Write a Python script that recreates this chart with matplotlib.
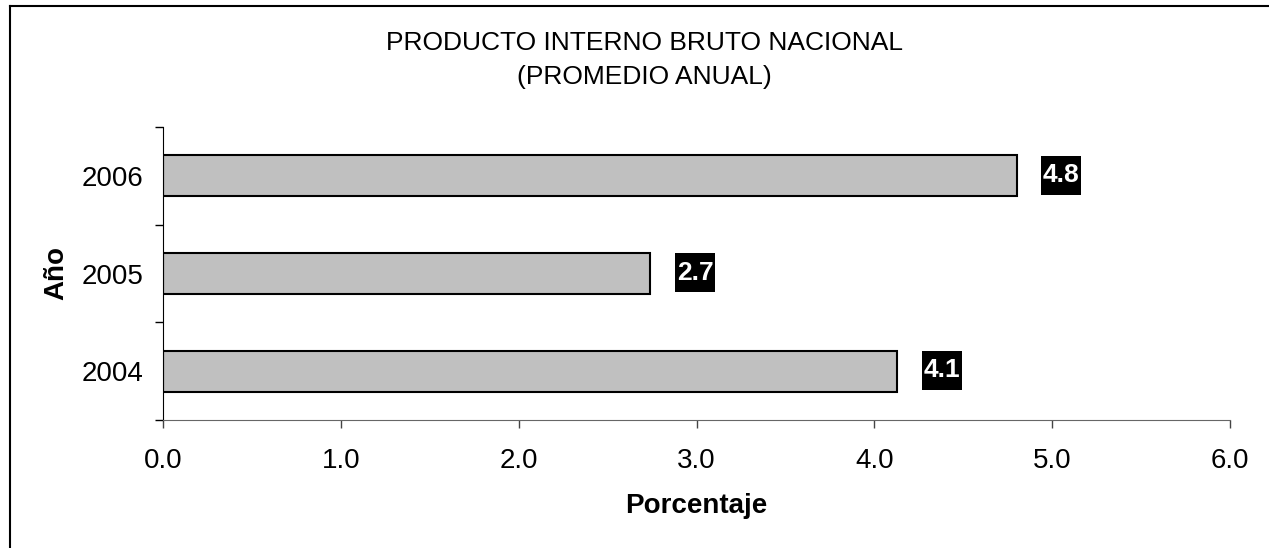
import matplotlib
matplotlib.use("Agg")
import matplotlib.pyplot as plt
from matplotlib.lines import Line2D
from matplotlib.path import Path
import numpy as np

plt.rcParams['font.family'] = ['Liberation Sans', 'DejaVu Sans']

# Data
years = ['2004', '2005', '2006']
pib = [4.13, 2.74, 4.8]
x_ticks = [0.0, 1.0, 2.0, 3.0, 4.0, 5.0, 6.0]


def label_box(x0, y0, width, height, mutation_size):
    # tight on the sides, taller on top/bottom (Excel style data label)
    px = 0.06 * mutation_size
    py = 0.28 * mutation_size
    return Path([(x0 - px, y0 - py), (x0 + width + px, y0 - py),
                 (x0 + width + px, y0 + height + py), (x0 - px, y0 + height + py),
                 (x0 - px, y0 - py)], closed=True)


W, H, DPI = 1269, 548, 100
fig = plt.figure(figsize=(W / DPI, H / DPI), dpi=DPI)
ax = fig.add_axes([163 / W, 1 - 420 / H, (1230 - 163) / W, (420 - 127) / H])

ypos = np.arange(len(years))
ax.barh(ypos, pib, height=0.42, color='#C0C0C0', edgecolor='black', linewidth=1.5)

# value labels: white bold text on a black box
for y, v in zip(ypos, pib):
    ax.annotate(f"{v:.1f}", xy=(v, y), xytext=(19, 0.5), textcoords='offset points',
                ha='left', va='center', fontsize=19, fontweight='bold', color='white',
                bbox=dict(boxstyle=label_box, facecolor='black', edgecolor='none'))

ax.set_xlim(0, 6)
ax.set_ylim(-0.5, len(years) - 0.5)
ax.set_xticks(x_ticks)
ax.set_xticklabels([f"{t:.1f}" for t in x_ticks])
ax.set_yticks(ypos)
ax.set_yticklabels(years)
ax.set_yticks(np.arange(-0.5, len(years)), minor=True)

ax.tick_params(axis='x', direction='out', length=6, width=1, color='#444444',
               labelsize=20, pad=14)
ax.tick_params(axis='y', which='major', length=0, labelsize=20, pad=14)
ax.tick_params(axis='y', which='minor', direction='out', length=6, width=1, color='black')

for side in ['top', 'right']:
    ax.spines[side].set_visible(False)
ax.spines['left'].set_color('black')
ax.spines['bottom'].set_color('#666666')

ax.set_xlabel('Porcentaje', fontsize=20, fontweight='bold', labelpad=14)
ax.set_ylabel('Año', fontsize=20, fontweight='bold', labelpad=9)

fig.text(0.508, 1 - 43 / H, 'PRODUCTO INTERNO BRUTO NACIONAL', ha='center', va='center',
         fontsize=19)
fig.text(0.508, 1 - 77 / H, '(PROMEDIO ANUAL)', ha='center', va='center', fontsize=19)

# chart frame (only top and left edges are visible in the crop)
fig.add_artist(Line2D([9.5 / W, 9.5 / W], [0, 1 - 5.5 / H], color='black', lw=1.5,
                      transform=fig.transFigure))
fig.add_artist(Line2D([9.5 / W, 1], [1 - 5.5 / H, 1 - 5.5 / H], color='black', lw=1.5,
                      transform=fig.transFigure))

fig.savefig('out.png', dpi=DPI)
